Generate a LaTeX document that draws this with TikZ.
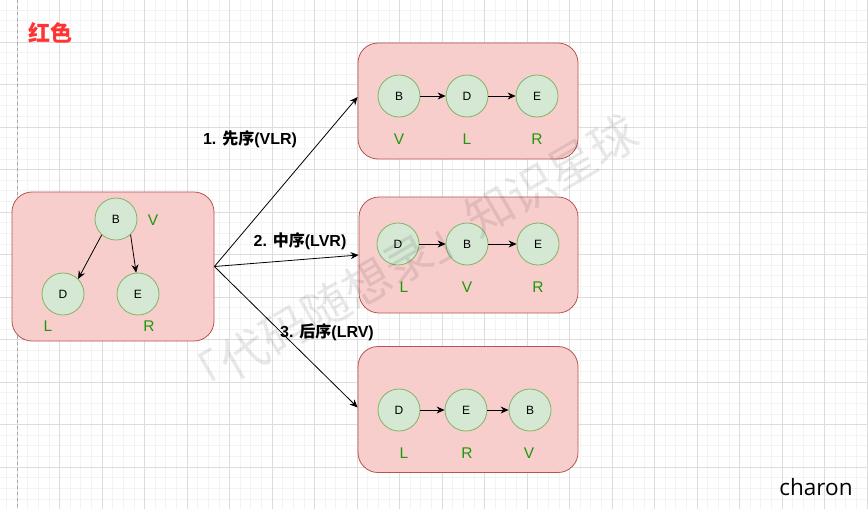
\documentclass[tikz,border=0pt]{standalone}
\usepackage{fontspec}
\setmainfont{Liberation Sans}
\newfontfamily\zhfont{Noto Sans CJK SC}
\newfontfamily\signfont{Open Sans}
\usetikzlibrary{arrows.meta}
\definecolor{grpfill}{HTML}{F8CECC}
\definecolor{grpline}{HTML}{B85450}
\definecolor{vtxfill}{HTML}{D5E8D4}
\definecolor{vtxline}{HTML}{82B366}
\definecolor{sidegreen}{HTML}{1A9A0A}
\definecolor{titlered}{HTML}{FF3333}
\definecolor{gridmajor}{HTML}{DDDDDD}
\definecolor{gridminor}{HTML}{F3F3F3}
\newcommand{\zh}[1]{{\zhfont #1}}
\tikzset{
  grp/.style={draw=grpline, fill=grpfill, line width=0.8pt, rounded corners=20pt},
  vtx/.style={circle, draw=vtxline, fill=vtxfill, line width=0.8pt, minimum size=42pt,
    inner sep=0pt, font=\fontsize{12}{14}\selectfont},
  side/.style={text=sidegreen, font=\fontsize{15.5}{18}\selectfont},
  link/.style={-{Stealth[length=8pt,width=7pt]}, line width=0.8pt},
  order/.style={font=\bfseries\fontsize{16}{18}\selectfont}
}
\begin{document}
\begin{tikzpicture}[x=1pt,y=-1pt]
\useasboundingbox[fill=white] (0,0) rectangle (868,509);
% grid paper
\foreach \k in {-1,...,81} \draw[gridminor, line width=0.6pt] ({17+10.625*\k},0) -- ({17+10.625*\k},509);
\foreach \k in {0,...,48} \draw[gridminor, line width=0.6pt] (0,{-0.5+10.625*\k}) -- (868,{-0.5+10.625*\k});
\foreach \k in {0,...,20} \draw[gridmajor, line width=0.7pt] ({17+42.5*\k},0) -- ({17+42.5*\k},509);
\foreach \k in {0,...,12} \draw[gridmajor, line width=0.7pt] (0,{-0.5+42.5*\k}) -- (868,{-0.5+42.5*\k});
\draw[gray!70, dashed, dash pattern=on 3pt off 3pt, line width=0.8pt] (17,0) -- (17,509);

\node[text=titlered, font=\zhfont\bfseries\fontsize{22}{26}\selectfont] (title) at (50,33) {红色};

% the tree
\node[grp, minimum width=202pt, minimum height=149pt] (tree) at (113,266.5) {};
\node[vtx] (b0) at (116,219) {B};
\node[vtx] (d0) at (63,294) {D};
\node[vtx] (e0) at (138,294) {E};
\node[side] (v0) at (153,220) {V};
\node[side] (l0) at (48,326) {L};
\node[side] (r0) at (149,326) {R};
\draw[link] (b0.-132) -- (d0.45);
\draw[link] (b0.-47) -- (e0.95);

% preorder
\node[grp, minimum width=220pt, minimum height=116pt] (pre) at (468,101) {};
\node[vtx] (b1) at (399,96) {B};
\node[vtx] (d1) at (467,96) {D};
\node[vtx] (e1) at (537,96) {E};
\node[side] at (399,139) {V};
\node[side] at (467,139) {L};
\node[side] at (537,139) {R};
\draw[link] (b1) -- (d1);
\draw[link] (d1) -- (e1);

% inorder
\node[grp, minimum width=219pt, minimum height=116pt] (in) at (468.5,255) {};
\node[vtx] (d2) at (398,244) {D};
\node[vtx] (b2) at (467,244) {B};
\node[vtx] (e2) at (538,244) {E};
\node[side] at (404,287) {L};
\node[side] at (467,287) {V};
\node[side] at (538,287) {R};
\draw[link] (d2) -- (b2);
\draw[link] (b2) -- (e2);

% postorder
\node[grp, minimum width=220pt, minimum height=126pt] (post) at (468,409.5) {};
\node[vtx] (d3) at (399,410) {D};
\node[vtx] (e3) at (466,410) {E};
\node[vtx] (b3) at (530,410) {B};
\node[side] at (404,453) {L};
\node[side] at (467,453) {R};
\node[side] at (529,453) {V};
\draw[link] (d3) -- (e3);
\draw[link] (e3) -- (b3);

% three walks
\draw[link] (tree.east) -- ([yshift=4pt]pre.west);
\draw[link] (tree.east) -- (in.west);
\draw[link] (tree.east) -- ([yshift=2pt]post.west);
\node[order] (o1) at (250,139) {1. \zh{先序}(VLR)};
\node[order] (o2) at (300,241) {2. \zh{中序}(LVR)};
\node[order] (o3) at (327,332) {3. \zh{后序}(LRV)};

% watermark
\node[rotate=30.1, text=black, opacity=0.09, font=\zhfont\fontsize{47.5}{50}\selectfont] (mark) at (408,259) {「代码随想录」知识星球};

\node[font=\signfont\fontsize{22.5}{26}\selectfont] (sign) at (816,487) {charon};
\end{tikzpicture}
\end{document}
